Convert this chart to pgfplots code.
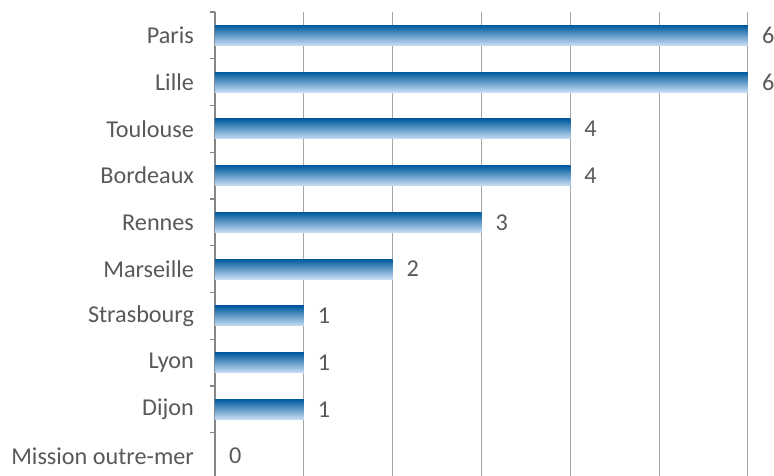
\documentclass[border=0pt]{standalone}
\usepackage{pgfplots}
\pgfplotsset{compat=1.18}
\usepackage{fontspec}
\setmainfont{Carlito}
\definecolor{txt}{HTML}{595959}
\definecolor{gridc}{HTML}{A6A6A6}
\definecolor{axc}{HTML}{868686}
\definecolor{bdark}{HTML}{005A9E}
\definecolor{bmid}{HTML}{1E82C8}
\definecolor{blight}{HTML}{C8DEF5}
\begin{document}
\begin{tikzpicture}[font=\fontsize{12.1}{14}\selectfont]
\begin{axis}[
  scale only axis, width=266.5pt, height=233.7pt,
  xmin=0, xmax=6, ymin=-0.5, ymax=9.5, y dir=reverse,
  clip=false,
  axis y line*=left, axis x line*=bottom,
  x axis line style={draw=none},
  y axis line style={draw=axc, line width=0.6pt},
  xtick={0,...,6}, xticklabels=\empty,
  major x tick style={draw=none},
  xmajorgrids, major grid style={draw=gridc, line width=0.5pt},
  ytick={0,...,9},
  yticklabels={Paris,Lille,Toulouse,Bordeaux,Rennes,Marseille,Strasbourg,Lyon,Dijon,Mission outre-mer},
  major y tick style={draw=none}, major tick length=0pt,
  minor ytick={-0.5,0.5,...,9.5},
  minor tick length=2.5pt, tick align=outside,
  minor y tick style={draw=axc, line width=0.6pt},
  yticklabel style={text=txt, xshift=-7pt},
  /pgf/number format/assume math mode=true,
  bbar/.style={xbar, bar width=0.43, bar shift=0pt, draw=none,
    top color=bdark, middle color=bmid, bottom color=blight},
]
\addplot[bbar] coordinates {(6,0)};
\addplot[bbar] coordinates {(6,1)};
\addplot[bbar] coordinates {(4,2)};
\addplot[bbar] coordinates {(4,3)};
\addplot[bbar] coordinates {(3,4)};
\addplot[bbar] coordinates {(2,5)};
\addplot[bbar] coordinates {(1,6)};
\addplot[bbar] coordinates {(1,7)};
\addplot[bbar] coordinates {(1,8)};
\addplot[draw=none, mark=none, nodes near coords, point meta=x,
  nodes near coords style={anchor=west, text=txt, xshift=3.5pt}]
  coordinates {(6,0) (6,1) (4,2) (4,3) (3,4) (2,5) (1,6) (1,7) (1,8) (0,9)};
\end{axis}
\pgfresetboundingbox
\path[use as bounding box] ([xshift=-107.5pt,yshift=2.2pt]current axis.south west) rectangle ([xshift=13pt,yshift=6pt]current axis.north east);
\end{tikzpicture}
\end{document}
